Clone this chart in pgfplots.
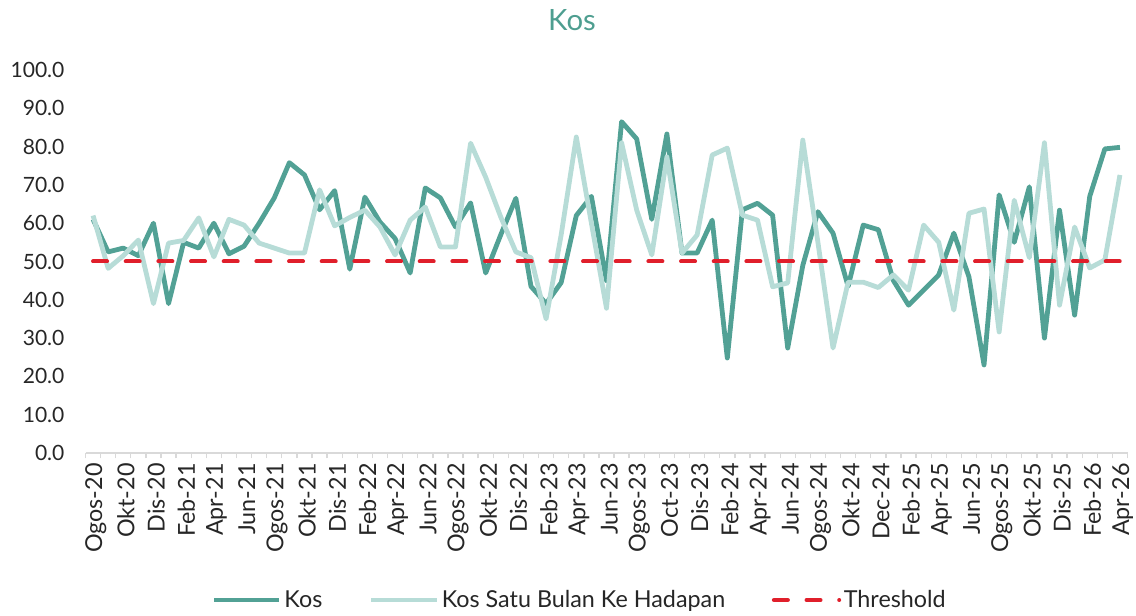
\documentclass[border=0pt]{standalone}
\usepackage{pgfplots}
\usepackage{pgfplotstable}
\pgfplotsset{compat=1.18}
\usepackage{fontspec}
\setmainfont{Lato}
\definecolor{kosdark}{HTML}{52A195}
\definecolor{koslight}{HTML}{B7DCD7}
\definecolor{thr}{HTML}{E01F2B}
\definecolor{titlec}{HTML}{4E9E90}
\definecolor{axgray}{HTML}{D9D9D9}

\pgfplotstableread{
x kos fwd
0 61 62
1 52.5 48.2
2 53.5 51.5
3 51.5 55.6
4 60 39
5 39 54.8
6 55 55.5
7 53.5 61.4
8 60 51.2
9 52 61
10 54 59.5
11 60 54.8
12 66.6 53.5
13 75.8 52.2
14 72.6 52.2
15 63.5 68.7
16 68.5 59.3
17 48 61.5
18 66.8 63.4
19 60.3 59
20 56 51.7
21 47 60.8
22 69.2 64.2
23 66.6 53.8
24 59 53.8
25 65.3 80.9
26 47 72
27 57 61.6
28 66.5 52.5
29 43.5 51
30 39 35
31 44.5 57
32 62 82.5
33 67 60
34 45 37.8
35 86.5 81
36 82 63.4
37 61 51.7
38 83.3 77.3
39 52.2 52.2
40 52.2 56.9
41 60.8 77.8
42 24.8 79.6
43 63.5 62.1
44 65.2 60.8
45 62.1 43.4
46 27.4 44.4
47 49 81.7
48 63 55
49 57.4 27.4
50 43.5 44.6
51 59.5 44.6
52 58.3 43.2
53 45 46.5
54 38.6 42.5
55 42.5 59.5
56 46.5 55
57 57.4 37.3
58 46 62.6
59 23 63.7
60 67.4 31.6
61 55 66
62 69.5 51
63 30 81
64 63.4 38.6
65 36 59
66 67 48.3
67 79.4 50.4
68 79.8 72.6
}\datatable

\begin{document}
\begin{tikzpicture}
\useasboundingbox (0,0) rectangle (852pt,462pt);
\node[text=titlec, font=\fontsize{22}{26}\selectfont] at (429pt,447pt) {Kos};
\begin{axis}[
  at={(64.125pt,122.25pt)}, anchor=south west,
  scale only axis, width=781.5pt, height=287.25pt,
  xmin=-0.5, xmax=68.5, ymin=0, ymax=100,
  axis lines*=left,
  y axis line style={draw=none},
  x axis line style={draw=axgray, line width=1.2pt},
  ytick={0,10,...,100},
  major y tick style={draw=none},
  yticklabel style={/pgf/number format/fixed, /pgf/number format/fixed zerofill, /pgf/number format/precision=1, /pgf/number format/assume math mode=true, xshift=-8pt, text=black!85, font=\fontsize{15.8}{18}\selectfont},
  xtick={0,2,...,68},
  xticklabels={Ogos-20,Okt-20,Dis-20,Feb-21,Apr-21,Jun-21,Ogos-21,Okt-21,Dis-21,Feb-22,Apr-22,Jun-22,Ogos-22,Okt-22,Dis-22,Feb-23,Apr-23,Jun-23,Ogos-23,Oct-23,Dis-23,Feb-24,Apr-24,Jun-24,Ogos-24,Okt-24,Dec-24,Feb-25,Apr-25,Jun-25,Ogos-25,Okt-25,Dis-25,Feb-26,Apr-26},
  x tick label style={rotate=90, anchor=east, text=black!85, yshift=-2pt, font=\fontsize{17.5}{20}\selectfont},
  major x tick style={draw=none},
  minor xtick={-0.5,0.5,...,68.5},
  minor x tick style={draw=axgray, line width=1pt},
  tick align=outside,
  minor tick length=4pt,
  legend style={at={(0.4746,-0.384)}, anchor=center, draw=none, fill=none,
    legend columns=3, font=\fontsize{17.5}{20}\selectfont, text=black!85,
    /tikz/every even column/.append style={column sep=33pt}},
  legend image code/.code={\draw[#1] (0pt,0pt) -- (49pt,0pt);},
  clip=false,
]
\addplot[kosdark, line width=3.6pt, line join=round] table[x=x,y=kos]{\datatable};
\addlegendentry{Kos}
\addplot[koslight, line width=3.6pt, line join=round] table[x=x,y=fwd]{\datatable};
\addlegendentry{Kos Satu Bulan Ke Hadapan}
\addplot[thr, line width=3pt, line cap=round, dash pattern=on 10.5pt off 14pt] coordinates {(0,50) (68,50)};
\addlegendentry{Threshold}
\end{axis}
\end{tikzpicture}
\end{document}
